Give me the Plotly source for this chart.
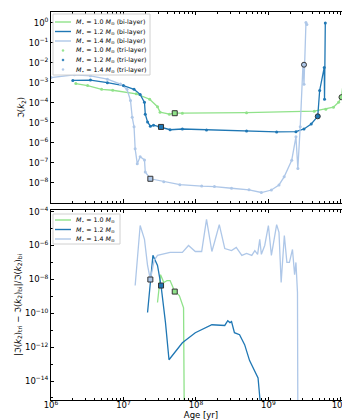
import plotly.graph_objects as go

# ---- top panel: Im(k2) vs age (bi-layer curves; tri-layer shown as dots) ----
age_10 = [2.2e6, 3.2e6, 5.0e6, 7.1e6, 1.5e7, 2.3e7, 2.95e7, 3.2e7, 4.3e7, 5.1e7, 6.5e7,
          5.0e8, 4.3e9, 6.2e9, 7.9e9, 9.3e9, 1.02e10, 1.12e10, 1.17e10, 1.2e10]
k2_10 = [9.1e-4, 7.2e-4, 4.7e-4, 4.2e-4, 2.8e-4, 1.5e-4, 6.3e-5, 3.4e-5, 2.7e-5, 3.0e-5, 3.0e-5,
         3.2e-5, 3.8e-5, 4.8e-5, 6.0e-5, 1.05e-4, 1.9e-4, 3.2e-3, 6.0e-4, 4.4e-1]

age_12 = [2.0e6, 3.5e6, 6.0e6, 1.0e7, 1.4e7, 1.7e7, 1.95e7, 2.0e7, 2.15e7, 2.35e7, 2.6e7,
          3.1e7, 3.3e7, 4.4e7, 6.5e7, 1.4e8, 5.0e8, 1.3e9, 2.4e9, 3.1e9, 3.9e9, 4.8e9, 5.1e9,
          5.9e9, 5.95e9, 6.1e9]
k2_12 = [1.3e-3, 1.35e-3, 1.0e-3, 7.2e-4, 4.7e-4, 2.6e-4, 1.05e-4, 2.7e-5, 1.1e-5, 6.8e-6, 7.6e-6,
         6.4e-6, 6.2e-6, 4.5e-6, 4.9e-6, 4.4e-6, 3.9e-6, 3.5e-6, 3.6e-6, 4.9e-6, 8.7e-6, 2.1e-5, 4.1e-4,
         5.8e-3, 1.5e-4, 9.5e-1]

age_14 = [1.0e6, 2.1e6, 3.5e6, 6.0e6, 9.1e6, 1.12e7, 1.25e7, 1.32e7, 1.4e7, 1.45e7, 1.55e7, 1.7e7,
          1.95e7, 2.0e7, 2.35e7, 3.6e7, 6.0e7, 1.2e8, 1.8e8, 3.1e8, 5.4e8, 8.0e8, 1.1e9, 1.4e9,
          1.65e9, 2.1e9, 2.4e9, 2.55e9, 2.75e9, 3.0e9, 3.1e9, 3.3e9, 3.4e9]
k2_14 = [1.8e-3, 2.5e-3, 2.2e-3, 1.5e-3, 8.5e-4, 4.7e-4, 1.3e-4, 1.9e-5, 6.3e-6, 5.0e-7, 9.1e-8, 2.0e-7,
         1.4e-7, 3.5e-8, 1.6e-8, 1.15e-8, 8.1e-9, 6.9e-9, 6.5e-9, 5.4e-9, 4.5e-9, 3.3e-9, 4.4e-9, 7.9e-9,
         2.0e-8, 1.35e-7, 2.0e-6, 5.2e-8, 6.3e-6, 7.9e-3, 8.3e-4, 1.0, 8.0e-1]

# transition markers (squares / circles)
sq_age = [5.1e7, 3.3e7, 2.35e7]
sq_k2 = [3.0e-5, 6.2e-6, 1.6e-8]
ci_age = [1.02e10, 4.8e9, 3.1e9]
ci_k2 = [1.9e-4, 2.1e-5, 7.9e-3]

# ---- bottom panel: relative difference tri vs bi ----
dage_10 = [2.95e7, 3.25e7, 3.6e7, 4.0e7, 4.4e7, 5.1e7, 5.9e7, 6.5e7, 6.75e7, 6.9e7]
dk2_10 = [4.3e-10, 1.9e-8, 6.5e-9, 8.5e-9, 8.5e-9, 1.9e-9, 1.1e-9, 3.2e-10, 2.1e-10, 1e-16]

dage_12 = [2.15e7, 2.55e7, 2.95e7, 3.3e7, 3.8e7, 4.25e7, 6.5e7, 9.8e7, 1.66e8, 2.5e8, 2.75e8,
           2.95e8, 3.1e8, 3.4e8, 4.0e8, 4.7e8, 5.5e8, 7.2e8, 8.0e8, 8.5e8]
dk2_12 = [1.1e-10, 2.6e-7, 6.6e-8, 4.3e-9, 2.8e-11, 1.8e-13, 1.8e-12, 7.1e-12, 2.1e-11, 1.9e-11, 3.6e-11,
          2.8e-11, 3.2e-11, 7.1e-12, 5.4e-12, 1.4e-12, 1.6e-13, 1.5e-14, 1e-16, 1e-16]

dage_14 = [1.45e7, 1.7e7, 1.95e7, 2.15e7, 2.35e7, 2.65e7, 2.95e7, 4.4e7, 6.5e7, 7.9e7, 9.8e7,
           1.2e8, 1.4e8, 1.66e8, 1.8e8, 2.1e8, 2.5e8, 3.1e8, 3.6e8, 4.3e8, 5.0e8, 5.9e8, 6.5e8,
           7.1e8, 7.6e8, 8.0e8, 8.9e8, 1.0e9, 1.1e9, 1.3e9, 1.4e9, 1.5e9, 1.66e9, 1.8e9, 1.95e9,
           2.15e9, 2.3e9, 2.4e9, 2.52e9, 2.55e9]
dk2_14 = [4.3e-9, 1.5e-5, 2.3e-6, 6.6e-8, 9.8e-9, 1.3e-7, 2.6e-7, 3.9e-7, 3.9e-7, 1.0e-6, 4.4e-7,
          4.4e-7, 3.5e-5, 4.4e-7, 1.5e-6, 1.7e-5, 6.6e-7, 5.0e-7, 7.6e-7, 2.6e-7, 3.4e-7, 2.6e-7,
          5.0e-7, 3.0e-7, 2.3e-6, 3.0e-7, 1.0e-6, 1.5e-5, 2.6e-7, 1.7e-5, 5.9e-6, 6.5e-9, 3.9e-6,
          1.0e-7, 1.0e-7, 5.8e-7, 1.9e-8, 1.0e-7, 1.7e-9, 1e-16]

dsq_age = [5.1e7, 3.3e7, 2.35e7]
dsq_k2 = [1.9e-9, 4.3e-9, 9.8e-9]

masses = ["1.0", "1.2", "1.4"]
colors = ["#90e28a", "#1f77b4", "#aec7e8"]

top_data = [(age_10, k2_10), (age_12, k2_12), (age_14, k2_14)]
bot_data = [(dage_10, dk2_10), (dage_12, dk2_12), (dage_14, dk2_14)]

W, H = 350, 420
ML, MR, MT, MB = 43, 7, 4, 28


def px(x):
    return (x - ML) / (W - ML - MR)


def py(y):
    return (H - MB - y) / (H - MT - MB)


def mlabel(m):
    return f"<i>M</i><sub>⋆</sub> = {m} <i>M</i><sub>⊙</sub>"


fig = go.Figure()

for m, c, (x, y) in zip(masses, colors, top_data):
    fig.add_trace(go.Scatter(x=x, y=y, mode="lines", line=dict(color=c, width=1.3),
                             name=mlabel(m) + " (bi-layer)", showlegend=False,
                             xaxis="x", yaxis="y"))
for m, c, (x, y) in zip(masses, colors, top_data):
    fig.add_trace(go.Scatter(x=x, y=y, mode="markers", marker=dict(color=c, size=3),
                             name=mlabel(m) + " (tri-layer)", showlegend=False,
                             xaxis="x", yaxis="y"))
for i, c in enumerate(colors):
    fig.add_trace(go.Scatter(x=[sq_age[i]], y=[sq_k2[i]], mode="markers", showlegend=False,
                             marker=dict(symbol="square", size=5, color=c,
                                         line=dict(color="#333333", width=1)),
                             xaxis="x", yaxis="y"))
    fig.add_trace(go.Scatter(x=[ci_age[i]], y=[ci_k2[i]], mode="markers", showlegend=False,
                             marker=dict(symbol="circle", size=5, color=c,
                                         line=dict(color="#333333", width=1)),
                             xaxis="x", yaxis="y"))

for m, c, (x, y) in zip(masses, colors, bot_data):
    fig.add_trace(go.Scatter(x=x, y=y, mode="lines", line=dict(color=c, width=1.3),
                             name=mlabel(m), showlegend=False,
                             xaxis="x2", yaxis="y2"))
for i, c in enumerate(colors):
    fig.add_trace(go.Scatter(x=[dsq_age[i]], y=[dsq_k2[i]], mode="markers", showlegend=False,
                             marker=dict(symbol="square", size=5, color=c,
                                         line=dict(color="#333333", width=1)),
                             xaxis="x2", yaxis="y2"))

# hand-drawn legends (plotly's own legend rows are too tall at this size)
shapes = []
annotations = []


def legend_box(x0, y0, x1, y1):
    shapes.append(dict(type="rect", xref="paper", yref="paper", x0=px(x0), x1=px(x1),
                       y0=py(y1), y1=py(y0), line=dict(color="#d0d0d0", width=1),
                       fillcolor="rgba(255,255,255,0.85)", layer="above"))


def legend_row(yc, text, color, kind):
    if kind == "line":
        shapes.append(dict(type="line", xref="paper", yref="paper", x0=px(47), x1=px(63),
                           y0=py(yc), y1=py(yc), line=dict(color=color, width=1.4), layer="above"))
    else:
        shapes.append(dict(type="circle", xref="paper", yref="paper", x0=px(54), x1=px(56),
                           y0=py(yc + 1), y1=py(yc - 1), line=dict(color=color, width=0.5),
                           fillcolor=color, layer="above"))
    annotations.append(dict(xref="paper", yref="paper", x=px(66), y=py(yc), text=text,
                            showarrow=False, xanchor="left", yanchor="middle",
                            font=dict(size=6.3, color="black")))


legend_box(45, 6, 142, 67)
rows_top = [14, 23.5, 33, 42.5, 52, 61.5]
for k, (m, c) in enumerate(zip(masses, colors)):
    legend_row(rows_top[k], mlabel(m) + " (bi-layer)", c, "line")
    legend_row(rows_top[k + 3], mlabel(m) + " (tri-layer)", c, "dot")

legend_box(45, 206, 112, 236)
rows_bot = [212, 221.5, 231]
for k, (m, c) in enumerate(zip(masses, colors)):
    legend_row(rows_bot[k], mlabel(m), c, "line")

axis_common = dict(type="log", showline=True, linecolor="black", linewidth=0.8, mirror="allticks",
                   ticks="inside", ticklen=3.5, tickcolor="black", tickwidth=0.8,
                   showgrid=False, zeroline=False,
                   automargin=False, tickfont=dict(size=8.5, color="black"))

xticks = [1e6, 1e7, 1e8, 1e9, 1e10]
xtext = ["10<sup>6</sup>", "10<sup>7</sup>", "10<sup>8</sup>", "10<sup>9</sup>", "10<sup>10</sup>"]
xminor = [k * 10.0 ** e for e in range(6, 11) for k in range(2, 10)]
ytop = [10.0 ** e for e in range(0, -9, -1)]
ytop_txt = ["10<sup>0</sup>"] + [f"10<sup>−{e}</sup>" for e in range(1, 9)]
ybot = [10.0 ** e for e in range(-4, -15, -2)]
ybot_txt = [f"10<sup>−{e}</sup>" for e in range(4, 15, 2)]
ybot_minor = [10.0 ** e for e in range(-5, -16, -2)]

minor_x = dict(tickmode="array", tickvals=xminor, ticks="inside", ticklen=2,
               tickcolor="black", tickwidth=0.6, showgrid=False)
minor_y = dict(tickmode="array", tickvals=ybot_minor, ticks="inside", ticklen=2,
               tickcolor="black", tickwidth=0.6, showgrid=False)

fig.update_layout(
    width=W, height=H,
    margin=dict(l=ML, r=MR, t=MT, b=MB),
    paper_bgcolor="white", plot_bgcolor="white",
    font=dict(family="DejaVu Sans", size=8.5, color="black"),
    showlegend=False,
    shapes=shapes, annotations=annotations,
    xaxis=dict(axis_common, domain=[0, 1], range=[6, 10.14], anchor="y",
               tickvals=xticks, ticktext=xtext, showticklabels=False, matches="x2",
               minor=minor_x),
    yaxis=dict(axis_common, domain=[0.508, 1], range=[-9.0, 0.53], anchor="x",
               tickvals=ytop, ticktext=ytop_txt,
               title=dict(text="ℑ(<i>k</i><sub>2</sub>)", standoff=2, font=dict(size=8.5))),
    xaxis2=dict(axis_common, domain=[0, 1], range=[6, 10.14], anchor="y2",
                tickvals=xticks, ticktext=xtext, ticklabelstandoff=-3, minor=minor_x,
                title=dict(text="Age [yr]", standoff=0, font=dict(size=8.5))),
    yaxis2=dict(axis_common, domain=[0, 0.49], range=[-15.12, -3.9], anchor="x2",
                tickvals=ybot, ticktext=ybot_txt, minor=minor_y,
                title=dict(text="|ℑ(<i>k</i><sub>2</sub>)<sub>tri</sub> − ℑ(<i>k</i><sub>2</sub>)<sub>bi</sub>|/ℑ(<i>k</i><sub>2</sub>)<sub>bi</sub>",
                           standoff=2, font=dict(size=8.5))),
)

fig.write_html("out.html")
